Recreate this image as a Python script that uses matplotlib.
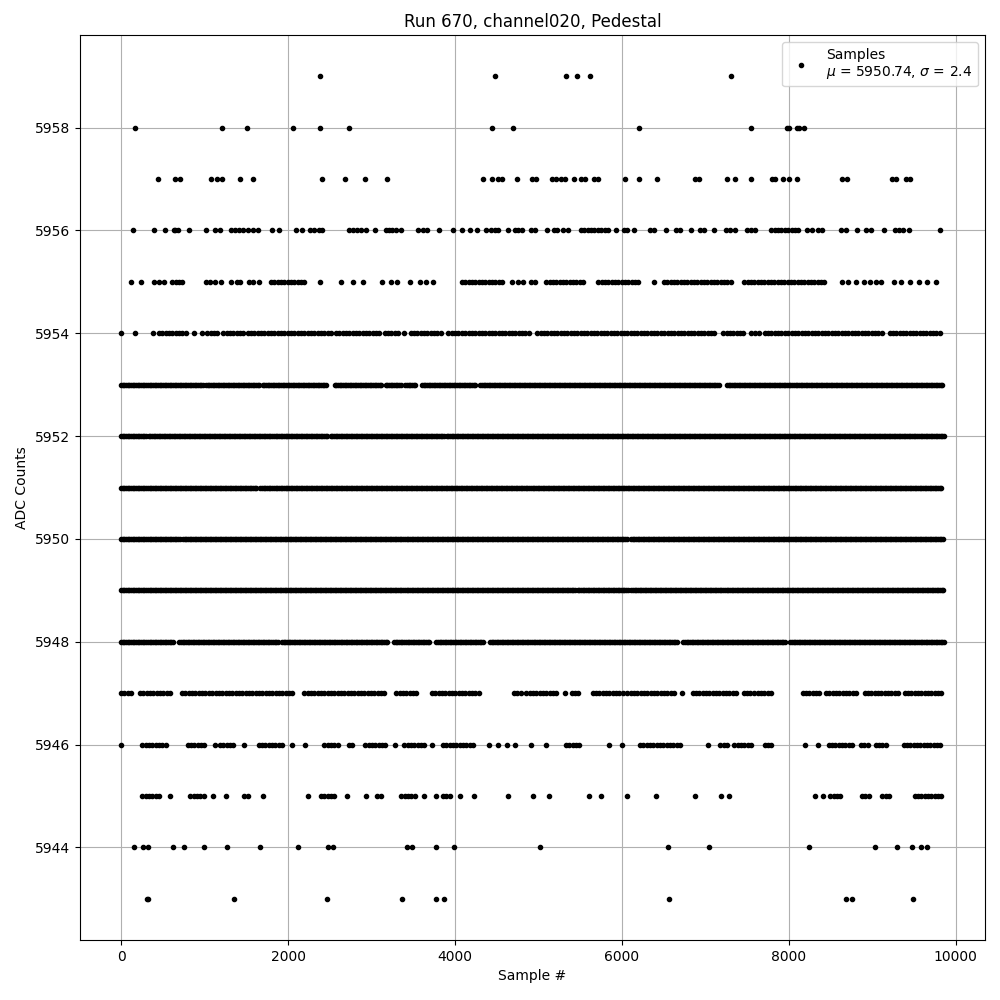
import numpy as np
import matplotlib
matplotlib.use('Agg')
import matplotlib.pyplot as plt

# ADC level -> sample numbers.
# a number is a single sample, a (start, end) pair is a run of samples packed so tight they touch
lvl_5959 = [2380, 4475, 5335, 5466, 5625, 7310]
lvl_5958 = [166, 1210, 1510, 2062, 2380, 2733, 4449, 4702, 6211, 7548, 7980, 8007, 8100, 8126, 8180]
lvl_5957 = [446, 645, 705, 1077, 1150, 1204, 1430, 1583, 2407, 2687, 2926, 3185, 4342, 4449, 4522,
            4569, 4748, 4928, 4974, 5167, 5214, 5267, 5320, 5433, 5513, 5559, 5672, 5719, 6038, 6211,
            6424, 6876, 6929, 7255, 7355, 7548, 7800, 7840, 7927, 8007, 8100, 8645, 8705, 9237, 9290,
            9410, 9450]
lvl_5956 = [146, 392, 525, 632, (640, 700), 818, 1017, 1130, 1184, 1317, 1363, 1410, 1463, 1516,
            1583, 1636, 1809, 1895, 2101, 2168, 2261, 2308, 2374, 2407, 2727, 2780, 2826, 2879, 2939,
            3039, (3172, 3305), 3358, 3558, 3618, 3671, 3810, 3977, 4090, 4183, 4269, 4369,
            (4436, 4522), 4635, (4722, 4821), 4908, 4961, 5101, 5187, 5227, 5300, 5360,
            (5513, 5852), 5925, (6025, 6078), 6151, 6337, 6384, 6530, 6650, 6697, 6830, 6943, 6989,
            7102, 7249, 7295, 7355, 7501, 7548, 7594, (7794, 8133), 8219, 8279, 8352, 8399, 8632,
            8692, 8818, 8931, 8991, 9144, 9277, 9323, 9370, 9443, 9815]
lvl_5955 = [113, 239, 392, 452, 512, (612, 751), 1017, 1064, 1130, 1197, 1317, 1383, 1430, 1529,
            1583, 1649, (1795, 2234), 2381, 2640, 2780, 2899, 3132, 3238, 3305, 3465, 3584, 3657,
            3737, (4083, 4589), 4688, 4755, 4821, 4908, 4961, (5094, 5573), (5719, 6218), 6384,
            (6504, 7315), (7468, 8446), 8645, 8712, 8811, 8898, 8978, 9044, 9110, 9257, 9350, 9456,
            9563, 9662, 9762]
lvl_5954 = [0, 166, 379, (452, 798), 878, 964, (1031, 1160), (1224, 1476), (1516, 2527),
            (2575, 3125), (3159, 3325), 3392, (3471, 3857), 3923, (3963, 4921), (4988, 6517),
            (6550, 7149), (7215, 7480), 7550, (7600, 7650), (7714, 9144), (9210, 9822)]
lvl_5953 = [(0, 984), (1017, 1663), (1696, 2461), (2560, 3125), (3172, 3358), (3405, 3538),
            (3604, 4256), (4303, 7182), (7262, 9855)]
lvl_5952 = [(0, 300), (330, 2480), (2510, 3870), (3900, 9860)]
lvl_5951 = [(0, 1630), (1670, 9830)]
lvl_5950 = [(0, 700), (740, 6070), (6110, 9860)]
lvl_5949 = [(0, 5440), (5470, 6080), (6115, 9870)]
lvl_5948 = [(0, 632), (698, 1895), (1929, 3205), (3272, 3711), (3777, 4356), (4422, 6670),
            (6736, 7960), (8020, 9860)]
lvl_5947 = [(0, 146), (226, 599), (731, 2062), (2195, 3192), (3298, 3558), (3724, 4323),
            (4708, 4788), (4855, 5240), 5320, (5400, 5506), (5652, 6018), (6065, 6650), 6717,
            (6850, 7382), (7461, 7581), (7627, 7794), (8166, 8379), (8446, 8845), (8911, 9323),
            (9390, 9855)]
lvl_5946 = [0, (253, 545), (798, 1031), 1130, (1184, 1383), 1476, (1649, 1962), 2048, 2208,
            (2434, 2594), (2727, 2806), (2926, 3192), 3285, (3392, 3657), 3724, (3857, 4256), 4409,
            4522, 4622, 4722, 4908, 5087, (5333, 5520), 5852, 5998, (6218, 6717), 7029,
            (7182, 7282), (7348, 7548), (7714, 7814), 8193, 8352, (8479, 8778), (8865, 8978),
            (9044, 9164), (9377, 9842)]
lvl_5945 = [(253, 479), 585, (831, 1011), 1104, 1257, (1476, 1530), 1702, 2241, (2394, 2560),
            2707, 2939, (3072, 3139), (3358, 3538), 3624, 3771, (3857, 3943), 4057, 4223, 4635,
            4941, 5127, 5606, 5746, 6065, 6411, 6883, 7189, 7289, 8313, 8412, (8499, 8645),
            (8878, 8991), (9124, 9230), (9510, 9842)]
lvl_5944 = [153, 266, 319, 625, 758, 998, 1270, 1669, 2121, 2474, 2540, 3425, 3491, 3777, 3990,
            5021, 6557, 7049, 8246, 9037, 9297, 9483, 9583, 9662]
lvl_5943 = [305, 320, 1357, 2467, 3365, 3771, 3864, 6570, 8685, 8758, 9496]

levels = {5959: lvl_5959, 5958: lvl_5958, 5957: lvl_5957, 5956: lvl_5956, 5955: lvl_5955,
          5954: lvl_5954, 5953: lvl_5953, 5952: lvl_5952, 5951: lvl_5951, 5950: lvl_5950,
          5949: lvl_5949, 5948: lvl_5948, 5947: lvl_5947, 5946: lvl_5946, 5945: lvl_5945,
          5944: lvl_5944, 5943: lvl_5943}

mu = 5950.74
sigma = 2.4

xs, ys = [], []
for adc, items in levels.items():
    # the busy middle levels are packed solid, the outer ones look more beaded
    step = 20 if 5948 <= adc <= 5953 else 40
    for it in items:
        if isinstance(it, tuple):
            s = np.arange(it[0], it[1] + 1, step)
        else:
            s = np.array([it])
        xs.append(s)
        ys.append(np.full(len(s), adc))
xs = np.concatenate(xs)
ys = np.concatenate(ys)
order = np.argsort(xs, kind='stable')
xs, ys = xs[order], ys[order]

fig, ax = plt.subplots(figsize=(10, 10), dpi=100)
ax.plot(xs, ys, 'k.', label='Samples\n$\\mu$ = %.2f, $\\sigma$ = %.1f' % (mu, sigma))
ax.set_title('Run 670, channel020, Pedestal')
ax.set_xlabel('Sample #')
ax.set_ylabel('ADC Counts')
ax.grid(True)
ax.legend(loc='upper right')
fig.subplots_adjust(left=0.08, right=0.985, top=0.965, bottom=0.06)
fig.savefig('out.png')
